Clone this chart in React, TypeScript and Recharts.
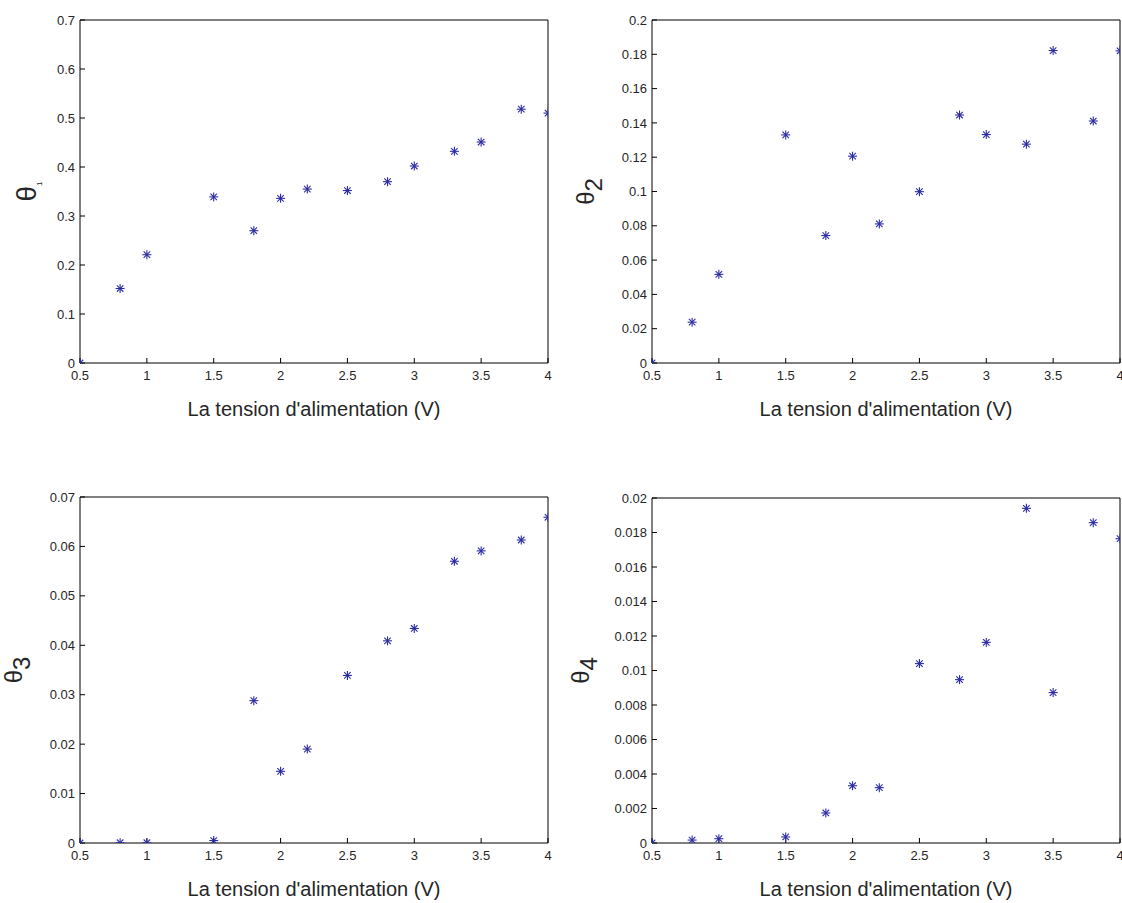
import React from "react";
import { ScatterChart, Scatter, XAxis, YAxis } from "recharts";

const voltages = [0.5, 0.8, 1, 1.5, 1.8, 2, 2.2, 2.5, 2.8, 3, 3.3, 3.5, 3.8, 4];
const theta1 = [0, 0.152, 0.221, 0.339, 0.27, 0.336, 0.355, 0.352, 0.37, 0.402, 0.432, 0.451, 0.518, 0.51];
const theta2 = [0, 0.0238, 0.0517, 0.133, 0.0743, 0.1206, 0.0811, 0.0999, 0.1446, 0.1332, 0.1276, 0.1822, 0.1411, 0.182];
const theta3 = [0, 0.00005, 0.00005, 0.0005, 0.0288, 0.0145, 0.019, 0.0339, 0.0409, 0.0434, 0.057, 0.0591, 0.0613, 0.0659];
const theta4 = [0, 0.00017, 0.00025, 0.00035, 0.00174, 0.00332, 0.00321, 0.0104, 0.00947, 0.01163, 0.0194, 0.00872, 0.01857, 0.01764];

const xTicks = [0.5, 1, 1.5, 2, 2.5, 3, 3.5, 4];
const yTicks1 = [0, 0.1, 0.2, 0.3, 0.4, 0.5, 0.6, 0.7];
const yTicks2 = [0, 0.02, 0.04, 0.06, 0.08, 0.1, 0.12, 0.14, 0.16, 0.18, 0.2];
const yTicks3 = [0, 0.01, 0.02, 0.03, 0.04, 0.05, 0.06, 0.07];
const yTicks4 = [0, 0.002, 0.004, 0.006, 0.008, 0.01, 0.012, 0.014, 0.016, 0.018, 0.02];

const xTitle = "La tension d'alimentation (V)";
const FONT = "'Liberation Sans', Arial, sans-serif";
const TEXT = "#262626";
const MARK = "#2c2ca4";
const Y_W = 60;
const X_H = 60;

const Asterisk = (props: any) => {
  const { cx, cy } = props;
  const r = 4.5;
  const d = r * 0.72;
  return (
    <g stroke={MARK} strokeWidth={1.1}>
      <line x1={cx - r} y1={cy} x2={cx + r} y2={cy} />
      <line x1={cx} y1={cy - r} x2={cx} y2={cy + r} />
      <line x1={cx - d} y1={cy - d} x2={cx + d} y2={cy + d} />
      <line x1={cx - d} y1={cy + d} x2={cx + d} y2={cy - d} />
    </g>
  );
};

const XTitle = (props: any) => {
  const { x, y, width } = props.viewBox;
  return (
    <text x={x + width / 2} y={y + 53} textAnchor="middle" fontSize={20} fill={TEXT} fontFamily={FONT}>
      {xTitle}
    </text>
  );
};

const makeYTitle = (sub: string, thetaSize: number, subSize: number, subDy: number, dist: number) => (props: any) => {
  const { x, y, width, height } = props.viewBox;
  const cx = x + width - dist;
  const cy = y + height / 2;
  return (
    <text x={cx} y={cy} textAnchor="middle" transform={`rotate(-90, ${cx}, ${cy})`} fill={TEXT} fontFamily={FONT}>
      <tspan fontSize={thetaSize}>θ</tspan>
      <tspan fontSize={subSize} dy={subDy}>{sub}</tspan>
    </text>
  );
};

type PanelProps = {
  left: number;
  top: number;
  width: number;
  height: number;
  plot: { l: number; t: number; r: number; b: number };
  values: number[];
  yTicks: number[];
  yTitle: any;
};

const Panel = ({ left, top, width, height, plot, values, yTicks, yTitle }: PanelProps) => {
  const data = voltages.map((v, i) => ({ x: v, y: values[i] }));
  const yMax = yTicks[yTicks.length - 1];
  // top and right axes are 1px wide so that they are drawn; their lines sit on the plot edge
  const margin = {
    top: plot.t - top - 1,
    left: plot.l - left - Y_W,
    right: left + width - plot.r - 1,
    bottom: top + height - plot.b - X_H,
  };
  const axisStyle = { stroke: "#000", strokeWidth: 1 };
  return (
    <div style={{ position: "absolute", left, top }}>
      <ScatterChart width={width} height={height} margin={margin}>
        <XAxis
          xAxisId="b"
          type="number"
          dataKey="x"
          domain={[0.5, 4]}
          ticks={xTicks}
          interval={0}
          height={X_H}
          tickSize={-5}
          tickMargin={13}
          axisLine={axisStyle}
          tickLine={axisStyle}
          tick={{ fill: TEXT, fontSize: 13, fontFamily: FONT }}
          label={{ content: XTitle }}
          allowDataOverflow
        />
        <XAxis
          xAxisId="t"
          orientation="top"
          type="number"
          dataKey="x"
          domain={[0.5, 4]}
          ticks={xTicks}
          interval={0}
          height={1}
          tickSize={-5}
          axisLine={axisStyle}
          tickLine={axisStyle}
          tick={false}
          allowDataOverflow
        />
        <YAxis
          yAxisId="l"
          type="number"
          dataKey="y"
          domain={[0, yMax]}
          ticks={yTicks}
          interval={0}
          width={Y_W}
          tickSize={-5}
          tickMargin={10}
          axisLine={axisStyle}
          tickLine={axisStyle}
          tick={{ fill: TEXT, fontSize: 13, fontFamily: FONT }}
          label={{ content: yTitle }}
          allowDataOverflow
        />
        <YAxis
          yAxisId="r"
          orientation="right"
          type="number"
          dataKey="y"
          domain={[0, yMax]}
          ticks={yTicks}
          interval={0}
          width={1}
          tickSize={-5}
          axisLine={axisStyle}
          tickLine={axisStyle}
          tick={false}
          allowDataOverflow
        />
        <Scatter xAxisId="b" yAxisId="l" data={data} shape={Asterisk} isAnimationActive={false} />
      </ScatterChart>
    </div>
  );
};

export default function App() {
  return (
    <div style={{ position: "absolute", left: 0, top: 0, width: 1122, height: 903, background: "#fff" }}>
      <Panel
        left={0}
        top={0}
        width={561}
        height={440}
        plot={{ l: 80, t: 20, r: 548, b: 363 }}
        values={theta1}
        yTicks={yTicks1}
        yTitle={makeYTitle("1", 28, 8, 6, 44)}
      />
      <Panel
        left={561}
        top={0}
        width={561}
        height={440}
        plot={{ l: 652, t: 20, r: 1120, b: 363 }}
        values={theta2}
        yTicks={yTicks2}
        yTitle={makeYTitle("2", 24, 24, 8, 58)}
      />
      <Panel
        left={0}
        top={460}
        width={561}
        height={443}
        plot={{ l: 80, t: 497, r: 548, b: 843 }}
        values={theta3}
        yTicks={yTicks3}
        yTitle={makeYTitle("3", 24, 24, 8, 58)}
      />
      <Panel
        left={561}
        top={460}
        width={561}
        height={443}
        plot={{ l: 652, t: 498, r: 1120, b: 843 }}
        values={theta4}
        yTicks={yTicks4}
        yTitle={makeYTitle("4", 24, 24, 8, 63)}
      />
    </div>
  );
}
